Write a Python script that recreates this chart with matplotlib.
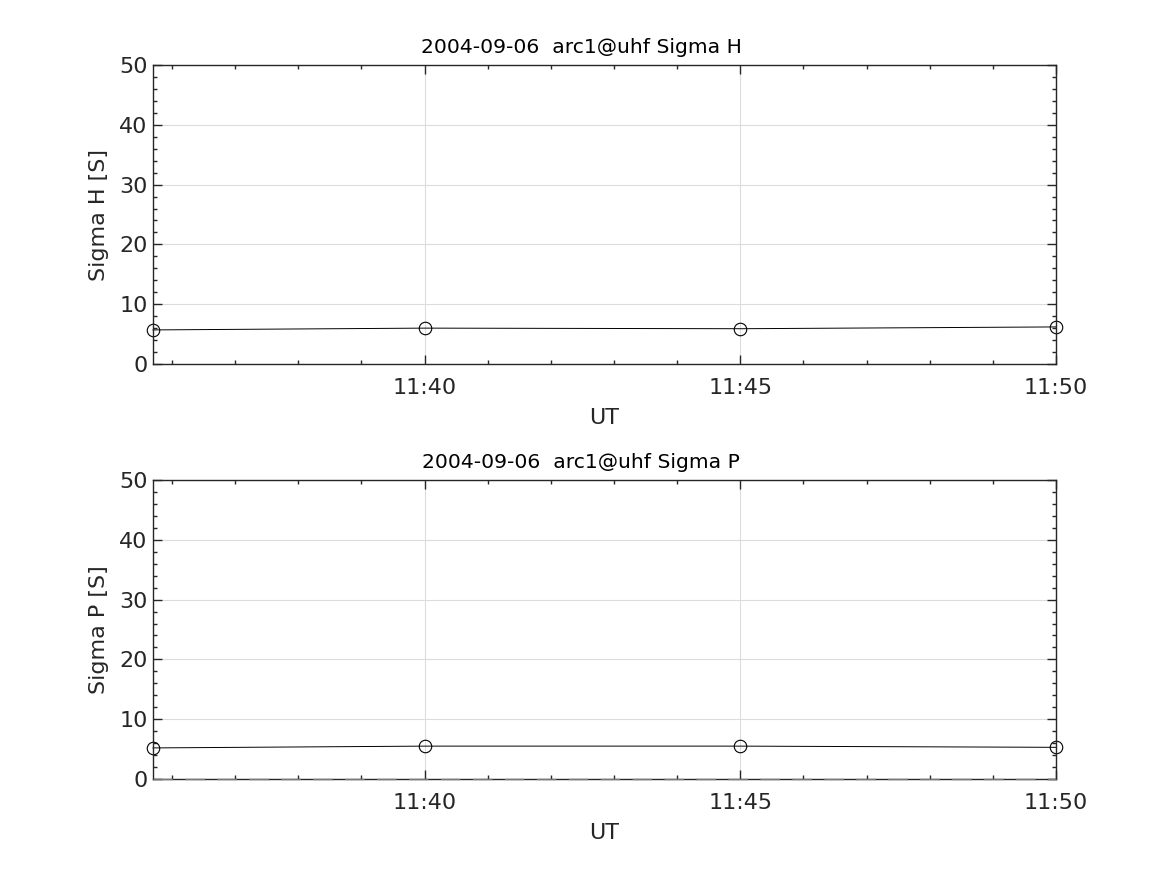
import datetime as dt
import matplotlib
matplotlib.use("Agg")
import matplotlib.pyplot as plt
import matplotlib.dates as mdates
from matplotlib.ticker import MultipleLocator

# ------------------------------------------------------------------ dados

TIMES = ["11:35:42", "11:40:00", "11:45:00", "11:50:00"]
SIGMA_H = [5.7, 6.0, 5.9, 6.2]
SIGMA_P = [5.2, 5.5, 5.5, 5.3]
ZERO_P = [0, 0, 0, 0]

DAY = "2004-09-06"
TITLES = ["2004-09-06  arc1@uhf Sigma H", "2004-09-06  arc1@uhf Sigma P"]
YLABELS = ["Sigma H [S]", "Sigma P [S]"]

t = [dt.datetime.strptime(DAY + " " + s, "%Y-%m-%d %H:%M:%S") for s in TIMES]

TXT = "#262626"
plt.rcParams["font.family"] = ["DejaVu Sans"]
plt.rcParams["axes.labelcolor"] = TXT
plt.rcParams["xtick.color"] = TXT
plt.rcParams["ytick.color"] = TXT

fig = plt.figure(figsize=(11.67, 8.75), dpi=100)
ax1 = fig.add_axes([0.1311, 0.584, 0.7738, 0.3417])
ax2 = fig.add_axes([0.1311, 0.1097, 0.7738, 0.3417])


def style(ax, title, ylabel):
    ax.set_xlim(t[0], t[-1])
    ax.set_ylim(0, 50)
    ax.xaxis.set_major_locator(mdates.MinuteLocator(byminute=range(0, 60, 5)))
    ax.xaxis.set_minor_locator(mdates.MinuteLocator())
    ax.xaxis.set_major_formatter(mdates.DateFormatter("%H:%M"))
    ax.yaxis.set_major_locator(MultipleLocator(10))
    ax.yaxis.set_minor_locator(MultipleLocator(2))
    ax.tick_params(which="both", direction="in", top=True, right=True,
                   labelsize=16, width=1.0)
    ax.tick_params(which="major", length=6.5)
    ax.tick_params(which="minor", length=3)
    ax.tick_params(axis="x", which="major", pad=10)
    ax.tick_params(axis="y", which="major", pad=4)
    ax.grid(True, which="major", color="#dcdcdc", linewidth=0.8)
    ax.set_axisbelow(True)
    for sp in ax.spines.values():
        sp.set_color(TXT)
        sp.set_linewidth(1.0)
    ax.set_title(title, fontsize=14.6, pad=8.5, color="black", x=0.474)
    ax.set_ylabel(ylabel, fontsize=16, labelpad=7)
    ax.set_xlabel("UT", fontsize=16, labelpad=7)


ax1.plot(t, SIGMA_H, color="black", linewidth=0.7, marker="o",
         markersize=9, markerfacecolor="none", markeredgewidth=0.8, clip_on=False)
style(ax1, TITLES[0], YLABELS[0])

ax2.plot(t, ZERO_P, color="#7a7a7a", linewidth=1.0, linestyle=(0, (14, 9)),
         clip_on=False, zorder=3)
ax2.plot(t, SIGMA_P, color="black", linewidth=0.7, marker="o",
         markersize=9, markerfacecolor="none", markeredgewidth=0.8, clip_on=False)
style(ax2, TITLES[1], YLABELS[1])

fig.savefig("out.png", dpi=100)
